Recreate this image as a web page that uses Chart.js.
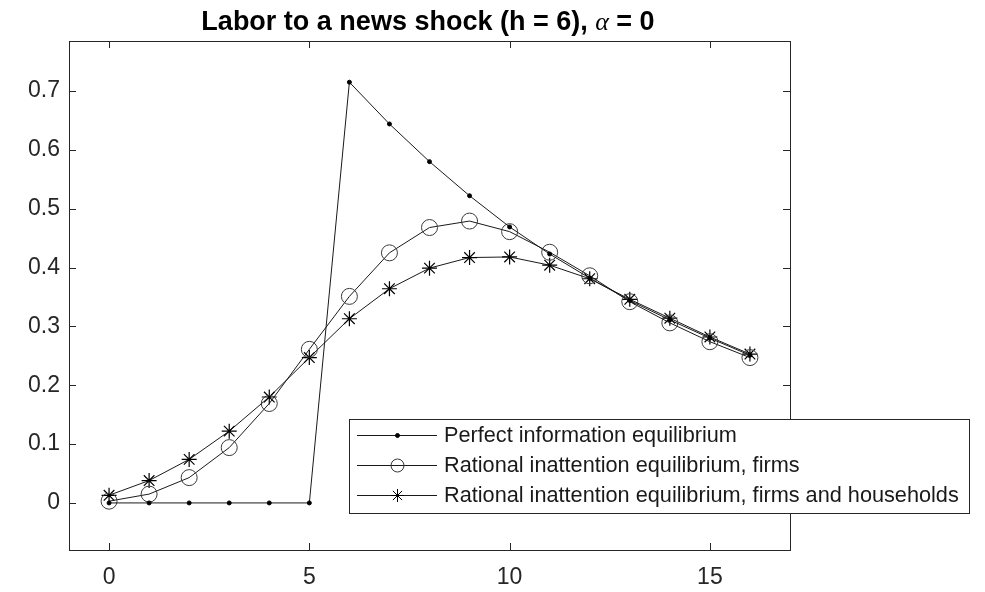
<!DOCTYPE html>
<html>
<head>
<meta charset="utf-8">
<script src="https://cdn.jsdelivr.net/npm/chart.js@4/dist/chart.umd.min.js"></script>
<style>
  html, body { margin: 0; padding: 0; background: #fff; }
  #wrap { width: 985px; height: 592px; }
</style>
</head>
<body>
<div id="wrap"><canvas id="chart" width="985" height="592"></canvas></div>
<script>
// data
const periods = [0, 1, 2, 3, 4, 5, 6, 7, 8, 9, 10, 11, 12, 13, 14, 15, 16];
const perfectInfo = [0, 0, 0, 0, 0, 0, 0.715, 0.644, 0.580, 0.522, 0.469, 0.423, 0.382, 0.344, 0.311, 0.280, 0.251];
const riFirms = [0.003, 0.015, 0.043, 0.094, 0.169, 0.261, 0.351, 0.425, 0.468, 0.479, 0.461, 0.426, 0.386, 0.342, 0.306, 0.274, 0.247];
const riFirmsHouseholds = [0.013, 0.038, 0.074, 0.122, 0.180, 0.247, 0.313, 0.364, 0.399, 0.417, 0.418, 0.404, 0.381, 0.346, 0.314, 0.282, 0.253];

const seriesLabels = [
  "Perfect information equilibrium",
  "Rational inattention equilibrium, firms",
  "Rational inattention equilibrium, firms and households"
];
const xTicks = [0, 5, 10, 15];
const yTicks = [0, 0.1, 0.2, 0.3, 0.4, 0.5, 0.6, 0.7];

const FONT = "Arial, 'Liberation Sans', Helvetica, sans-serif";

function toPoints(values) {
  return periods.map((p, i) => ({ x: p, y: values[i] }));
}

// box, inward ticks, title and legend (matlab look)
const matlabFrame = {
  id: "matlabFrame",
  afterDraw(chart) {
    const ctx = chart.ctx;
    const a = chart.chartArea;
    const xs = chart.scales.x;
    const ys = chart.scales.y;
    const tl = 7;

    ctx.save();
    ctx.strokeStyle = "#262626";
    ctx.lineWidth = 1;
    ctx.beginPath();
    xTicks.forEach(v => {
      const px = Math.round(xs.getPixelForValue(v)) + 0.5;
      ctx.moveTo(px, a.bottom); ctx.lineTo(px, a.bottom - tl);
      ctx.moveTo(px, a.top); ctx.lineTo(px, a.top + tl);
    });
    yTicks.forEach(v => {
      const py = Math.round(ys.getPixelForValue(v)) + 0.5;
      ctx.moveTo(a.left, py); ctx.lineTo(a.left + tl, py);
      ctx.moveTo(a.right, py); ctx.lineTo(a.right - tl, py);
    });
    ctx.stroke();
    ctx.strokeRect(Math.round(a.left) + 0.5, Math.round(a.top) + 0.5,
      Math.round(a.right - a.left), Math.round(a.bottom - a.top));

    // title with greek alpha
    const part1 = "Labor to a news shock (h = 6), ";
    const part2 = "\u03b1";
    const part3 = " = 0";
    const bold = "bold 27px " + FONT;
    const ital = "italic 26px 'Liberation Serif', 'Times New Roman', serif";
    ctx.font = bold; const w1 = ctx.measureText(part1).width; const w3 = ctx.measureText(part3).width;
    ctx.font = ital; const w2 = ctx.measureText(part2).width;
    let tx = 428 - (w1 + w2 + w3) / 2;
    const ty = 30;
    ctx.fillStyle = "#000";
    ctx.textBaseline = "alphabetic";
    ctx.textAlign = "left";
    ctx.font = bold; ctx.fillText(part1, tx, ty); tx += w1;
    ctx.font = ital; ctx.fillText(part2, tx, ty); tx += w2;
    ctx.font = bold; ctx.fillText(part3, tx, ty);

    // legend
    const lx = 349, ly = 419, lw = 620, lh = 94;
    ctx.fillStyle = "#fff";
    ctx.fillRect(lx, ly, lw, lh);
    ctx.strokeStyle = "#262626";
    ctx.strokeRect(lx + 0.5, ly + 0.5, lw, lh);
    const rows = [435.5, 465.5, 495.5];
    const legendRadius = [2, 6.5, 6.5];
    chart.data.datasets.forEach((ds, i) => {
      const y = rows[i];
      ctx.strokeStyle = ds.borderColor;
      ctx.lineWidth = 1;
      ctx.beginPath(); ctx.moveTo(357, y); ctx.lineTo(437, y); ctx.stroke();
      ctx.strokeStyle = ds.pointBorderColor;
      ctx.fillStyle = ds.backgroundColor;
      Chart.helpers.drawPoint(ctx, {
        pointStyle: ds.pointStyle,
        radius: legendRadius[i],
        borderWidth: ds.pointBorderWidth,
        rotation: 0
      }, 397.5, y);
      ctx.fillStyle = "#1a1a1a";
      ctx.font = "21.7px " + FONT;
      ctx.textBaseline = "middle";
      ctx.fillText(ds.label, 444, y + 1);
    });
    ctx.restore();
  }
};

new Chart(document.getElementById("chart"), {
  type: "line",
  data: {
    datasets: [
      {
        label: seriesLabels[0],
        data: toPoints(perfectInfo),
        borderColor: "#1a1a1a",
        backgroundColor: "#000",
        borderWidth: 1,
        pointStyle: "circle",
        pointRadius: 2,
        pointBorderColor: "#000",
        pointBorderWidth: 1,
        order: 1
      },
      {
        label: seriesLabels[1],
        data: toPoints(riFirms),
        borderColor: "#1a1a1a",
        backgroundColor: "rgba(0,0,0,0)",
        borderWidth: 1,
        pointStyle: "circle",
        pointRadius: 8,
        pointBorderColor: "#3a3a3a",
        pointBorderWidth: 1,
        order: 2
      },
      {
        label: seriesLabels[2],
        data: toPoints(riFirmsHouseholds),
        borderColor: "#1a1a1a",
        backgroundColor: "#000",
        borderWidth: 1,
        pointStyle: "star",
        pointRadius: 7.5,
        pointBorderColor: "#000",
        pointBorderWidth: 1.2,
        order: 3
      }
    ]
  },
  options: {
    responsive: false,
    animation: false,
    devicePixelRatio: 1,
    layout: { padding: { left: 0, right: 195, top: 41, bottom: 0 } },
    plugins: {
      legend: { display: false },
      title: { display: false },
      tooltip: { enabled: false }
    },
    elements: { line: { tension: 0 } },
    scales: {
      x: {
        type: "linear",
        min: -1,
        max: 17,
        grid: { display: false, drawTicks: false },
        border: { display: false },
        afterBuildTicks: s => { s.ticks = xTicks.map(v => ({ value: v })); },
        afterFit: s => { s.height = 42; },
        ticks: { color: "#262626", padding: 14, font: { family: FONT, size: 23 } }
      },
      y: {
        type: "linear",
        min: -0.08,
        max: 0.785,
        grid: { display: false, drawTicks: false },
        border: { display: false },
        afterBuildTicks: s => { s.ticks = yTicks.map(v => ({ value: v })); },
        afterFit: s => { s.width = 69; },
        ticks: {
          color: "#262626",
          padding: 9,
          font: { family: FONT, size: 23 },
          callback: v => (v === 0 ? "0" : v.toFixed(1))
        }
      }
    }
  },
  plugins: [matlabFrame]
});
</script>
</body>
</html>
